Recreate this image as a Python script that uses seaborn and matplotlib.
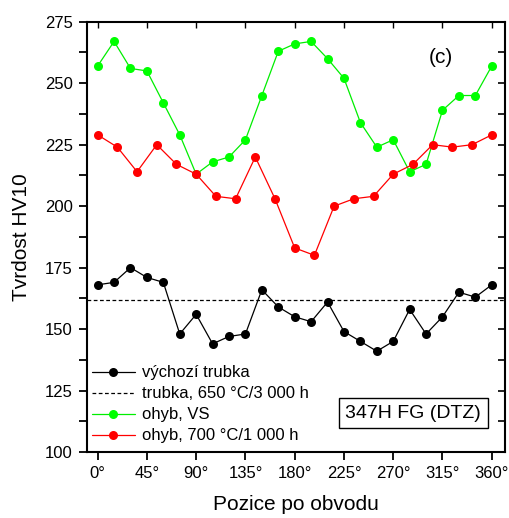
import numpy as np
import pandas as pd
import matplotlib
matplotlib.use("Agg")
import matplotlib.pyplot as plt
from matplotlib.ticker import MultipleLocator
import seaborn as sns

# Hardness around the pipe circumference
pos_15 = list(range(0, 361, 15))
pos_18 = list(range(0, 361, 18))

hv_initial = [168, 169, 175, 171, 169, 148, 156, 144, 147, 148, 166, 159, 155,
              153, 161, 149, 145, 141, 145, 158, 148, 155, 165, 163, 168]
hv_bend_vs = [257, 267, 256, 255, 242, 229, 213, 218, 220, 227, 245, 263, 266,
              267, 260, 252, 234, 224, 227, 214, 217, 239, 245, 245, 257]
hv_bend_700 = [229, 224, 214, 225, 217, 213, 204, 203, 220, 203, 183,
               180, 200, 203, 204, 213, 217, 225, 224, 225, 229]
hv_pipe_650 = 162

labels = ["výchozí trubka", "trubka, 650 °C/3 000 h", "ohyb, VS",
          "ohyb, 700 °C/1 000 h"]
x_ticks = [0, 45, 90, 135, 180, 225, 270, 315, 360]
x_tick_labels = [f"{t}°" for t in x_ticks]
y_ticks = [100, 125, 150, 175, 200, 225, 250, 275]

sns.set_style("ticks")
plt.rcParams["font.family"] = ["Liberation Sans", "DejaVu Sans"]
plt.rcParams.update({"text.color": "black", "axes.labelcolor": "black",
                     "xtick.color": "black", "ytick.color": "black",
                     "axes.edgecolor": "black"})

fig = plt.figure(figsize=(5.1, 5.18), dpi=100)
ax = fig.add_axes([0.170, 0.1274, 0.820, 0.8306])

line_kw = dict(marker="o", markersize=6.5, markeredgewidth=0, linewidth=0.9)
sns.lineplot(x=pos_15, y=hv_initial, color="black", ax=ax, **line_kw)
ax.axhline(hv_pipe_650, color="black", linestyle=(0, (3, 2)), linewidth=0.9)
sns.lineplot(x=pos_15, y=hv_bend_vs, color="#00ee00", ax=ax,
             markerfacecolor="#00ff00", **line_kw)
sns.lineplot(x=pos_18, y=hv_bend_700, color="#ff0000", ax=ax, **line_kw)

ax.set_xlim(-10, 372)
ax.set_ylim(100, 275)
ax.set_xticks(x_ticks)
ax.set_xticklabels(x_tick_labels)
ax.set_yticks(y_ticks)
ax.yaxis.set_minor_locator(MultipleLocator(12.5))

for side in ax.spines.values():
    side.set_linewidth(1.5)
    side.set_color("black")

ax.tick_params(axis="both", which="major", direction="out", length=6,
               width=1.3, labelsize=12, color="black", labelcolor="black",
               pad=4)
ax.tick_params(axis="y", which="minor", direction="out", length=5.5,
               width=1.3, color="black")

top = ax.secondary_xaxis("top")
top.set_xticks(x_ticks)
top.tick_params(direction="in", length=4, width=1.0, labeltop=False)
top.spines["top"].set_visible(False)
right = ax.secondary_yaxis("right")
right.set_yticks(y_ticks)
right.yaxis.set_minor_locator(MultipleLocator(12.5))
right.tick_params(which="both", direction="in", length=5, width=1.2,
                  labelright=False)
right.spines["right"].set_visible(False)

ax.set_xlabel("Pozice po obvodu", fontsize=15, labelpad=10)
ax.set_ylabel("Tvrdost HV10", fontsize=15, labelpad=10)

handles = ax.get_lines()
ax.legend(handles[:4], labels, loc="lower left", bbox_to_anchor=(0.012, 0.02),
          frameon=False, fontsize=12, handlelength=2.6, handletextpad=0.4,
          labelspacing=0.36, borderpad=0, borderaxespad=0)

ax.text(0.847, 0.918, "(c)", transform=ax.transAxes, fontsize=15,
        ha="center", va="center")
ax.text(0.781, 0.0906, "347H FG (DTZ)", transform=ax.transAxes, fontsize=14,
        ha="center", va="center",
        bbox=dict(boxstyle="square,pad=0.35", facecolor="white",
                  edgecolor="black", linewidth=1.0))

fig.savefig("out.png", dpi=100)
